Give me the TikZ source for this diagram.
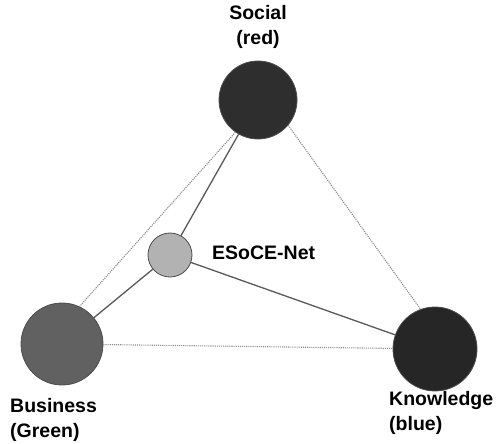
\documentclass[tikz,border=0pt]{standalone}
\usepackage{fontspec}
\setmainfont{Liberation Sans}
\begin{document}
\begin{tikzpicture}[x=1pt,y=-1pt,
  hub/.style={circle,draw=black!70,line width=0.8pt,inner sep=0pt},
  lbl/.style={font=\fontsize{19.5}{25}\selectfont\bfseries,align=left,inner sep=0pt},
  strong/.style={draw=black!65,line width=1.3pt},
  faint/.style={draw=black!45,line width=1.1pt,densely dotted}]
\useasboundingbox (0,0) rectangle (499,444);
% pillars of the triangle
\node[hub,fill=black!82,minimum size=78pt] (soc) at (258,100) {};
\node[hub,fill=black!62,minimum size=82pt] (bus) at (62,344) {};
\node[hub,fill=black!85,minimum size=84pt] (kno) at (435,349) {};
\node[hub,fill=black!30,minimum size=44pt] (net) at (170,255) {};
% labels
\node[lbl,align=center] (socl) at (258,27) {Social\\(red)};
\node[lbl,anchor=west] (busl) at (10,420) {Business\\(Green)};
\node[lbl,anchor=west] (knol) at (389,413) {Knowledge\\(blue)};
\node[lbl,anchor=west] (netl) at (212,253) {ESoCE-Net};
% outer links
\draw[faint] (soc.235) -- (bus.65);
\draw[faint] (soc.-40) -- (kno.110);
\draw[faint] (bus) -- (kno);
% links through the hub
\draw[strong] (soc) -- (net);
\draw[strong] (net) -- (bus);
\draw[strong] (net) -- (kno);
\end{tikzpicture}
\end{document}
